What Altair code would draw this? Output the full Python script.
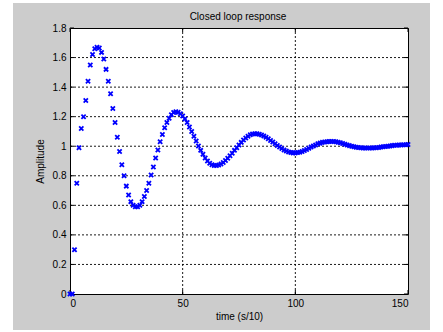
import altair as alt
import pandas as pd

# time samples (s/10)
time_vals = list(range(0, 151))
amplitude = [
    0.0, 0.0, 0.30, 0.75, 0.99, 1.12, 1.20, 1.31, 1.44, 1.55,
    1.62, 1.66, 1.67, 1.665, 1.635, 1.59, 1.52, 1.44, 1.355, 1.255,
    1.16, 1.06, 0.965, 0.875, 0.80, 0.73, 0.67, 0.625, 0.60, 0.59,
    0.59, 0.60, 0.625, 0.66, 0.70, 0.75, 0.805, 0.86, 0.92, 0.975,
    1.03, 1.08, 1.125, 1.16, 1.19, 1.213, 1.228, 1.233, 1.23, 1.22,
    1.205, 1.185, 1.16, 1.13, 1.10, 1.068, 1.035, 1.002, 0.972, 0.945,
    0.92, 0.90, 0.885, 0.875, 0.87, 0.869, 0.873, 0.88, 0.89, 0.903,
    0.918, 0.935, 0.953, 0.972, 0.99, 1.009, 1.026, 1.042, 1.056, 1.068,
    1.077, 1.083, 1.085, 1.084, 1.081, 1.076, 1.069, 1.06, 1.05, 1.039,
    1.028, 1.016, 1.005, 0.994, 0.984, 0.975, 0.967, 0.961, 0.957, 0.955,
    0.955, 0.957, 0.96, 0.965, 0.971, 0.978, 0.986, 0.994, 1.002, 1.009,
    1.016, 1.021, 1.026, 1.029, 1.031, 1.032, 1.032, 1.032, 1.03, 1.027,
    1.023, 1.019, 1.014, 1.009, 1.004, 1.0, 0.996, 0.993, 0.991, 0.989,
    0.988, 0.988, 0.988, 0.988, 0.988, 0.989, 0.99, 0.992, 0.994, 0.996,
    0.998, 1.0, 1.002, 1.004, 1.006, 1.007, 1.008, 1.009, 1.01, 1.01,
    1.011,
]
x_ticks = [0, 50, 100, 150]
y_ticks = [0, 0.2, 0.4, 0.6, 0.8, 1, 1.2, 1.4, 1.6, 1.8]
x_grid = [50, 100]
y_grid = [0.2, 0.4, 0.6, 0.8, 1, 1.2, 1.4, 1.6]
title_text = "Closed loop response"

W, H = 338, 266
FONT = "Liberation Sans"

df = pd.DataFrame({"t": time_vals, "v": amplitude})
one = pd.DataFrame({"label": [title_text]})
xg = pd.DataFrame({"t": x_grid})
yg = pd.DataFrame({"v": y_grid})
xt = pd.DataFrame({"t": x_ticks})
yt = pd.DataFrame({"v": y_ticks})

xs = alt.Scale(domain=[0, 150], nice=False, zero=False)
ys = alt.Scale(domain=[0, 1.8], nice=False, zero=False)

x_axis = alt.Axis(values=x_ticks, title="time (s/10)", grid=False, ticks=False,
                  domain=False, labelPadding=4, titlePadding=3,
                  labelExpr="toString(datum.value)")
y_axis = alt.Axis(values=y_ticks, title="Amplitude", grid=False, ticks=False,
                  domain=False, labelPadding=4, titlePadding=7,
                  labelExpr="toString(datum.value)")
X = alt.X("t:Q", scale=xs, axis=x_axis)
Y = alt.Y("v:Q", scale=ys, axis=y_axis)

# white page strips around the grey figure
strip_l = alt.Chart(one).mark_rect(color="white").encode(
    x=alt.value(-70), x2=alt.value(-57), y=alt.value(-28), y2=alt.value(H + 38)
)
strip_r = alt.Chart(one).mark_rect(color="white").encode(
    x=alt.value(360), x2=alt.value(W + 35), y=alt.value(-28), y2=alt.value(H + 38)
)
strip_b = alt.Chart(one).mark_rect(color="white").encode(
    x=alt.value(-70), x2=alt.value(W + 35), y=alt.value(H + 36), y2=alt.value(H + 38)
)
strip_t = alt.Chart(one).mark_rect(color="white").encode(
    x=alt.value(-70), x2=alt.value(W + 35), y=alt.value(-28), y2=alt.value(-25)
)

grid_style = dict(color="black", strokeDash=[2, 2], strokeWidth=1, opacity=0.9)
gx = alt.Chart(xg).mark_rule(**grid_style).encode(
    x=X, y=alt.value(0), y2=alt.value(H)
)
gy = alt.Chart(yg).mark_rule(**grid_style).encode(
    y=Y, x=alt.value(0), x2=alt.value(W)
)

tick_style = dict(color="black", strokeWidth=1)
tb = alt.Chart(xt).mark_rule(**tick_style).encode(
    x=X, y=alt.value(H), y2=alt.value(H - 4)
)
tt = alt.Chart(xt).mark_rule(**tick_style).encode(
    x=X, y=alt.value(0), y2=alt.value(4)
)
tl = alt.Chart(yt).mark_rule(**tick_style).encode(
    y=Y, x=alt.value(0), x2=alt.value(4)
)
tr = alt.Chart(yt).mark_rule(**tick_style).encode(
    y=Y, x=alt.value(W), x2=alt.value(W - 4)
)

title = alt.Chart(one).mark_text(
    font=FONT, fontSize=10, color="black", align="center", baseline="alphabetic"
).encode(x=alt.value(W / 2 - 1), y=alt.value(-8), text="label:N")

pts = alt.Chart(df).mark_point(
    shape="M-1,-1L1,1M-1,1L1,-1", filled=False, color="#0000ff",
    strokeWidth=1.8, size=18, opacity=1,
).encode(x=X, y=Y)

chart = alt.layer(strip_l, strip_r, strip_b, strip_t, gx, gy, tb, tt, tl, tr,
                  title, pts).properties(
    width=W, height=H,
    autosize=alt.AutoSizeParams(type="none"),
    padding={"left": 70, "top": 28, "right": 35, "bottom": 38},
).configure(background="#cccccc").configure_view(
    fill="white", stroke="black", strokeWidth=1
).configure_axis(
    labelFont=FONT, labelFontSize=10, labelColor="black",
    titleFont=FONT, titleFontSize=10, titleColor="black", titleFontWeight="normal",
)

chart.save("out.html", embed_options={"renderer": "svg", "actions": False})
